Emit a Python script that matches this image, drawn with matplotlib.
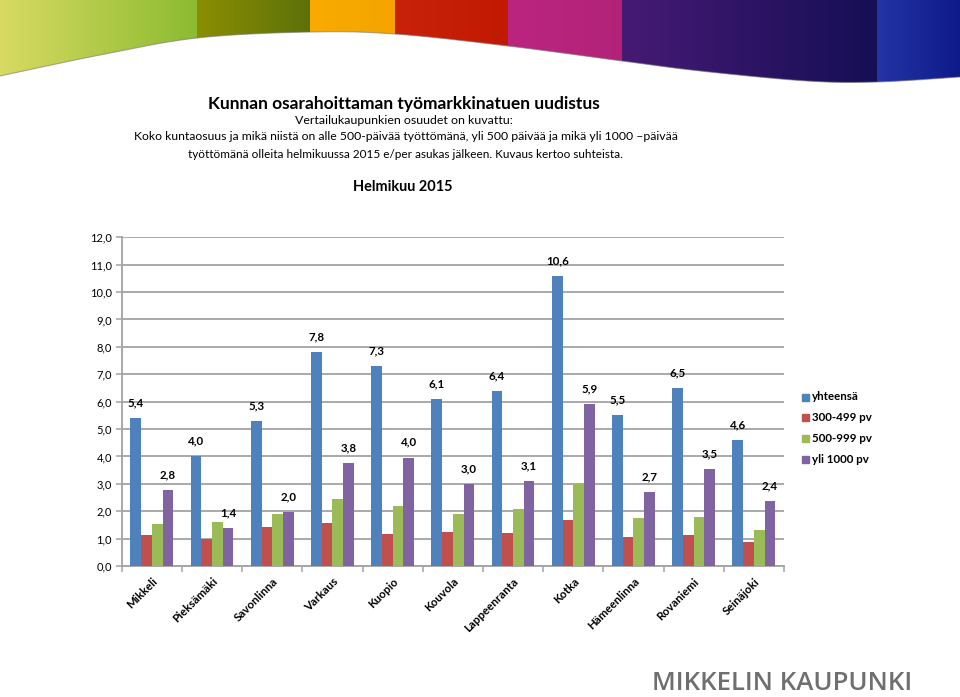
import numpy as np
import matplotlib
matplotlib.use("Agg")
import matplotlib.pyplot as plt
from matplotlib.patches import Polygon, Rectangle

# ---------------- data ----------------
cities = ["Mikkeli", "Pieksämäki", "Savonlinna", "Varkaus", "Kuopio", "Kouvola",
          "Lappeenranta", "Kotka", "Hämeenlinna", "Rovaniemi", "Seinäjoki"]
yhteensa = [5.4, 4.0, 5.3, 7.8, 7.3, 6.1, 6.4, 10.6, 5.5, 6.5, 4.6]
pv300_499 = [1.14, 0.97, 1.43, 1.58, 1.17, 1.23, 1.19, 1.68, 1.05, 1.13, 0.88]
pv500_999 = [1.52, 1.62, 1.91, 2.46, 2.20, 1.91, 2.08, 3.00, 1.76, 1.80, 1.33]
yli1000 = [2.77, 1.40, 1.96, 3.77, 3.96, 2.98, 3.10, 5.92, 2.69, 3.54, 2.36]
series_names = ["yhteensä", "300-499 pv", "500-999 pv", "yli 1000 pv"]
yticks = list(range(0, 13))

title = "Kunnan osarahoittaman työmarkkinatuen uudistus"
subtitle = ["Vertailukaupunkien osuudet on kuvattu:",
            "Koko kuntaosuus ja mikä niistä on alle 500-päivää työttömänä, yli 500 päivää ja mikä yli 1000 \u2013päivää",
            "työttömänä olleita helmikuussa 2015 e/per asukas jälkeen. Kuvaus kertoo suhteista."]
chart_title = "Helmikuu 2015"
logo = "MIKKELIN KAUPUNKI"

colors = ["#4F81BD", "#C0504D", "#9BBB59", "#8064A2"]
FONT = ["Lato", "DejaVu Sans"]
plt.rcParams["font.family"] = FONT

W, H = 960, 697
fig = plt.figure(figsize=(W / 100, H / 100), dpi=100)
fig.patch.set_facecolor("white")

# ---------------- background / banner ----------------
bg = fig.add_axes([0, 0, 1, 1], zorder=0)
bg.set_xlim(0, W)
bg.set_ylim(H, 0)
bg.axis("off")


def catmull(P, n=30):
    P = np.vstack([P[0], P, P[-1]])
    out = []
    for i in range(1, len(P) - 2):
        p0, p1, p2, p3 = P[i - 1], P[i], P[i + 1], P[i + 2]
        t = np.linspace(0, 1, n, endpoint=False)[:, None]
        out.append(0.5 * ((2 * p1) + (-p0 + p2) * t + (2 * p0 - 5 * p1 + 4 * p2 - p3) * t ** 2
                          + (-p0 + 3 * p1 - 3 * p2 + p3) * t ** 3))
    out.append(P[-2][None, :])
    return np.vstack(out)


wave_pts = np.array([(0, 76), (100, 55), (197, 38), (310, 32), (395, 34), (508, 46),
                     (622, 61), (700, 71), (807, 81), (877, 82), (960, 77)], float)
curve = catmull(wave_pts)
poly = np.vstack([curve, [[W, 0], [0, 0]]])
clip = Polygon(poly, closed=True, transform=bg.transData, facecolor="none", edgecolor="none")
bg.add_patch(clip)

stripes = [(0, 197, "#d8da62", "#8cbb30"),
           (197, 310, "#8a8e02", "#5d710a"),
           (310, 395, "#f9ab00", "#f5a400"),
           (395, 508, "#c8220a", "#c21a02"),
           (508, 622, "#bb2580", "#b22378"),
           (622, 877, "#461a74", "#150f55"),
           (877, 960, "#2434a4", "#0e1a8a")]
for x0, x1, c0, c1 in stripes:
    a = np.array(matplotlib.colors.to_rgb(c0))
    b = np.array(matplotlib.colors.to_rgb(c1))
    t = np.linspace(0, 1, 64)[:, None]
    grad = (a + (b - a) * t)[None, :, :]
    im = bg.imshow(grad, extent=(x0, x1 + 0.5, 90, 0), aspect="auto", interpolation="bilinear")
    im.set_clip_path(clip)
bg.plot(curve[:, 0], curve[:, 1], color="#777777", lw=0.8, alpha=0.6)
bg.set_xlim(0, W)
bg.set_ylim(H, 0)

renderer = fig.canvas.get_renderer()


def fit_text(x, y, s, target_w, size=10, **kw):
    t = bg.text(x, y, s, fontsize=size, ha="center", va="center", **kw)
    bb = t.get_window_extent(renderer)
    t.set_fontsize(size * target_w / bb.width)
    return t


fit_text(404, 104, title, 393, weight="bold")
fit_text(404, 120, subtitle[0], 219)
fit_text(406, 137, subtitle[1], 546)
fit_text(405, 154, subtitle[2], 432)
fit_text(403, 187, chart_title, 100, weight="bold")
fit_text(782, 683, logo, 260, color="#6f6f6f", weight="semibold",
         family=["Open Sans", "DejaVu Sans"])

# ---------------- chart ----------------
x0p, x1p, y0p, y1p = 121.7, 784.0, 566.0, 237.3
ax = fig.add_axes([x0p / W, 1 - y0p / H, (x1p - x0p) / W, (y0p - y1p) / H], zorder=2)
ax.patch.set_alpha(0)

x = np.arange(len(cities))
bw = 0.178
all_series = [yhteensa, pv300_499, pv500_999, yli1000]
labelled = [True, False, False, True]
for i, (vals, c, lab) in enumerate(zip(all_series, colors, labelled)):
    pos = x + (i - 1.5) * bw
    ax.bar(pos, vals, width=bw, color=c, zorder=3)
    if lab:
        for px, v in zip(pos, vals):
            ax.annotate(f"{v:.1f}".replace(".", ","), (px, v), xytext=(0, 7),
                        textcoords="offset points", ha="center", va="bottom",
                        fontsize=8.3, fontweight="bold", zorder=4)

ax.set_xlim(-0.5, len(cities) - 0.5)
ax.set_ylim(0, 12)
ax.set_yticks(yticks)
ax.set_yticklabels([f"{v:.1f}".replace(".", ",") for v in yticks], fontsize=8)
ax.yaxis.grid(True, color="#a3a3a3", lw=1.3, zorder=0)
ax.set_axisbelow(True)

ax.set_xticks(np.arange(-0.5, len(cities), 1))
ax.set_xticklabels([])
ax.set_xticks(x, minor=True)
ax.set_xticklabels(cities, minor=True, rotation=45, ha="right", rotation_mode="anchor",
                   fontsize=8.3, fontweight="bold")
ax.tick_params(axis="x", which="minor", length=0, pad=7)
ax.tick_params(axis="x", which="major", length=4, color="#a3a3a3", width=1.1)
ax.tick_params(axis="y", length=4, color="#a3a3a3", width=1.1, pad=3)
for s in ["top", "right"]:
    ax.spines[s].set_visible(False)
for s in ["left", "bottom"]:
    ax.spines[s].set_color("#a3a3a3")
    ax.spines[s].set_linewidth(1.3)

# legend
for k, (name, c) in enumerate(zip(series_names, colors)):
    yy = 397 + k * 20.7
    bg.add_patch(Rectangle((802, yy - 3.5), 7, 7, color=c))
    bg.text(812, yy, name, fontsize=8.3, fontweight="bold", va="center", ha="left")

fig.savefig("out.png", dpi=100, facecolor="white")
